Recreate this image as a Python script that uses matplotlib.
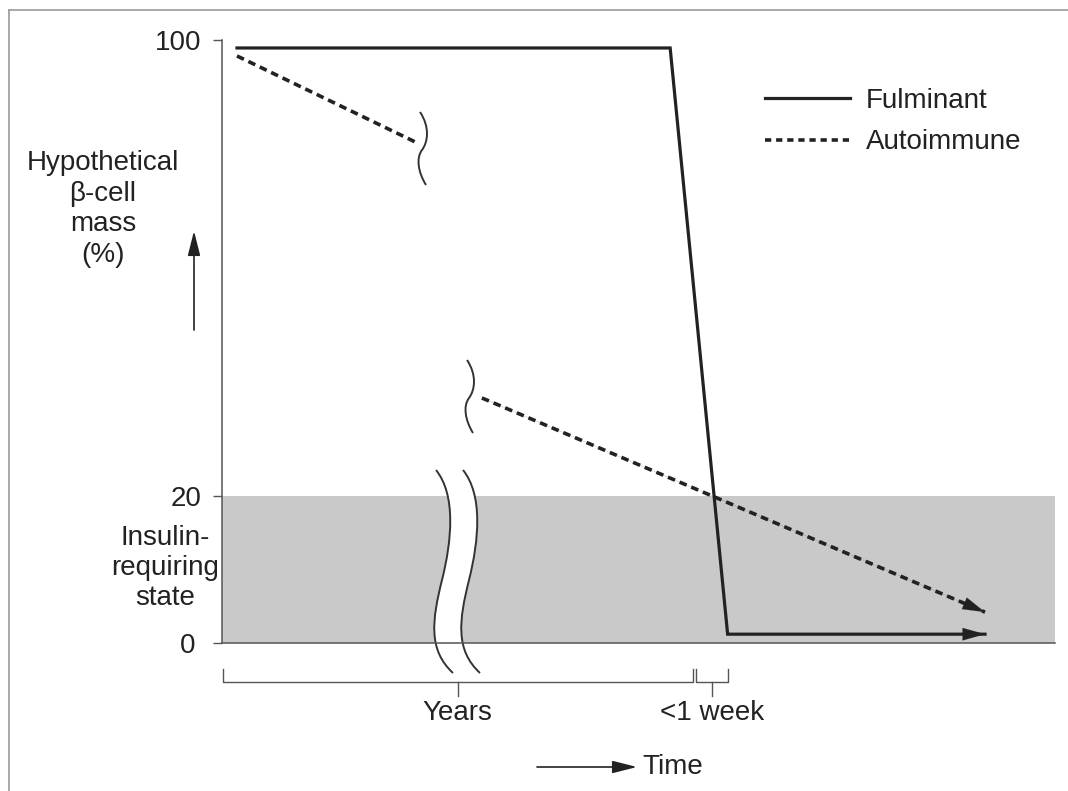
import numpy as np
import matplotlib
matplotlib.use('Agg')
import matplotlib.pyplot as plt
import matplotlib.transforms as mtransforms
from matplotlib.path import Path
from matplotlib.patches import PathPatch
from matplotlib.lines import Line2D

plt.rcParams['font.family'] = ['Liberation Sans', 'DejaVu Sans']
plt.rcParams['lines.scale_dashes'] = False

# ---------------- data (time in arbitrary units 0..100, beta-cell mass in %) ----------------
fulminant_x = [1.8, 53.8, 60.7, 91.6]
fulminant_y = [98.6, 98.6, 1.2, 1.2]
autoimmune_early_x = [1.8, 23.5]
autoimmune_early_y = [97.2, 81.9]
autoimmune_late_x = [31.2, 91.6]
autoimmune_late_y = [37.2, 4.2]
y_ticks = [0, 20, 100]
y_tick_labels = ['0', '20', '100']
insulin_threshold = 20
period_labels = ['Years', '<1 week']
period_starts = [0.1, 56.9]
period_ends = [56.5, 60.7]
series_names = ['Fulminant', 'Autoimmune']

# ---------------- styling ----------------
W, H = 1068, 791
DARK = '#222222'
AXC = '#555555'
GRAY = '#c9c9c9'
FS = 20

fig = plt.figure(figsize=(W / 100, H / 100), dpi=100)
fig.patch.set_facecolor('white')
ax = fig.add_axes([222 / W, (H - 643) / H, (1055 - 222) / W, (643 - 40) / H])

# pixel (top-left origin) transform for decorations
px = mtransforms.Affine2D().scale(1 / W, -1 / H).translate(0, 1) + fig.transFigure


# piecewise-linear y scale (0-20 is stretched in the schematic)
def fwd(v):
    v = np.asarray(v, float)
    return np.where(v <= 20, v * 147 / 20, 147 + (v - 20) * 456 / 80)


def inv(p):
    p = np.asarray(p, float)
    return np.where(p <= 147, p * 20 / 147, 20 + (p - 147) * 80 / 456)


ax.set_yscale('function', functions=(fwd, inv))
ax.set_xlim(0, 100)
ax.set_ylim(0, 100)

# insulin-requiring shaded zone
ax.axhspan(0, insulin_threshold, color=GRAY, lw=0, zorder=0)

LW = 2.3
DLW = 2.6
DASH = (0, (5.5, 3.6))

# Fulminant
ax.plot(fulminant_x, fulminant_y, color=DARK, lw=LW, solid_joinstyle='miter', zorder=4)
# Autoimmune
ax.plot(autoimmune_early_x, autoimmune_early_y, color=DARK, lw=DLW, linestyle=DASH, zorder=4)
ax.plot(autoimmune_late_x, autoimmune_late_y, color=DARK, lw=DLW, linestyle=DASH, zorder=4)

arrow_kw = dict(arrowstyle='-|>,head_length=1.6,head_width=0.45', color=DARK, lw=0.1,
                shrinkA=0, shrinkB=0, mutation_scale=10)
ax.annotate('', xy=(fulminant_x[-1], fulminant_y[-1]), xytext=(fulminant_x[-2], fulminant_y[-2]),
            arrowprops=arrow_kw, zorder=5)
ax.annotate('', xy=(autoimmune_late_x[-1], autoimmune_late_y[-1]),
            xytext=(autoimmune_late_x[-2], autoimmune_late_y[-2]),
            arrowprops=arrow_kw, zorder=5)

# axes styling
for s in ['top', 'right']:
    ax.spines[s].set_visible(False)
for s in ['left', 'bottom']:
    ax.spines[s].set_color(AXC)
    ax.spines[s].set_linewidth(1.1)
    ax.spines[s].set_zorder(6)
ax.set_xticks([])
ax.set_yticks(y_ticks)
ax.set_yticklabels(y_tick_labels)
ax.tick_params(axis='y', direction='out', length=6.5, width=1.0, color=AXC, pad=8,
               labelsize=FS, labelcolor=DARK)
ax.yaxis.get_major_ticks()[0].set_pad(13)
ax.yaxis.set_minor_locator(matplotlib.ticker.NullLocator())

# axis labels
ax.set_ylabel('Hypothetical\nβ-cell\nmass\n(%)', rotation=0, ha='center', va='center',
              fontsize=FS, color=DARK, linespacing=1.22)
ax.yaxis.set_label_coords((103 - 222) / 833, (643 - 209) / 603)
ax.set_xlabel('Time', ha='left', va='center', fontsize=FS, color=DARK)
ax.xaxis.set_label_coords((642 - 222) / 833, (643 - 767) / 603)

ax.text(165, 568, 'Insulin-\nrequiring\nstate', transform=px, ha='center', va='center',
        fontsize=FS, color=DARK, linespacing=1.22)

# direction arrows
small_arrow = dict(arrowstyle='-|>,head_length=1.5,head_width=0.38', color=DARK, lw=1.2,
                   shrinkA=0, shrinkB=0, mutation_scale=10)
ax.annotate('', xy=(194, 231), xytext=(194, 330), xycoords=px, textcoords=px,
            arrowprops=small_arrow, annotation_clip=False)
ax.annotate('', xy=(637, 767), xytext=(537, 767), xycoords=px, textcoords=px,
            arrowprops=small_arrow, annotation_clip=False)

# time brackets under the axis
bt = mtransforms.blended_transform_factory(ax.transData, px)
for lab, x0, x1 in zip(period_labels, period_starts, period_ends):
    xc = (x0 + x1) / 2
    ax.plot([x0, x0, x1, x1], [669, 682, 682, 669], transform=bt, color=AXC, lw=1.0,
            clip_on=False)
    ax.plot([xc, xc], [682, 696], transform=bt, color=AXC, lw=1.0, clip_on=False)
    ax.text(xc, 713, lab, transform=bt, ha='center', va='center', fontsize=FS, color=DARK)


# break marks (decorative)
def bez(pts):
    verts = [pts[0]]
    codes = [Path.MOVETO]
    for p in pts[1:]:
        verts.append(p)
        codes.append(Path.CURVE4)
    return verts, codes


def shift(pts, dx, dy):
    return [(x + dx, y + dy) for x, y in pts]


big_left = [(436, 470), (456, 495), (452, 540), (442, 580),
            (432, 620), (428, 650), (453, 673)]
big_right = shift(big_left, 27, 0)
fill_verts = big_left + [big_right[-1]] + big_right[::-1][1:]
fill_codes = ([Path.MOVETO] + [Path.CURVE4] * 6 + [Path.LINETO] + [Path.CURVE4] * 6)
ax.add_patch(PathPatch(Path(fill_verts, fill_codes), transform=px, facecolor='white',
                       edgecolor='none', zorder=1, clip_on=False))
for curve in (big_left, big_right):
    v, c = bez(curve)
    ax.add_patch(PathPatch(Path(v, c), transform=px, facecolor='none', edgecolor='#333333',
                           lw=1.4, zorder=3, clip_on=False))

small = [(420, 112), (430, 127), (428, 142), (422, 150),
         (416, 158), (418, 172), (426, 185)]
for dx, dy in [(0, 0), (47, 248)]:
    v, c = bez(shift(small, dx, dy))
    ax.add_patch(PathPatch(Path(v, c), transform=px, facecolor='none', edgecolor='#333333',
                           lw=1.4, zorder=3, clip_on=False))

# legend
handles = [Line2D([], [], color=DARK, lw=LW),
           Line2D([], [], color=DARK, lw=DLW, linestyle=(0, (4.5, 3.5)))]
leg = ax.legend(handles, series_names, loc='upper left', bbox_to_anchor=(765, 88),
                bbox_transform=px, frameon=False, fontsize=FS, handlelength=3.06,
                handletextpad=0.58, borderpad=0, borderaxespad=0, labelspacing=0.55,
                labelcolor=DARK)

# image border (top and left)
fig.add_artist(Line2D([9, W], [10, 10], transform=px, color='#999999', lw=1.2))
fig.add_artist(Line2D([9, 9], [10, H], transform=px, color='#999999', lw=1.2))

fig.savefig('out.png', dpi=100, facecolor='white')
